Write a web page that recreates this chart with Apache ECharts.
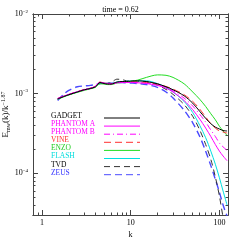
<!DOCTYPE html>
<html><head><meta charset="utf-8">
<script src="https://cdn.jsdelivr.net/npm/echarts@6/dist/echarts.min.js"></script>
<style>html,body{margin:0;padding:0;background:#fff}#c{width:241px;height:241px}</style>
</head><body><div id="c"></div>
<script>
const kValues = [1.5, 1.75, 2, 2.5, 3, 3.5, 4, 4.5, 5, 5.5, 6, 7, 8, 9, 10, 12, 15, 20, 25, 30, 40, 50, 60, 70, 80, 90, 100, 110, 122];
const gadget = [8.6e-4, 9.2e-4, 9.7e-4, 1.05e-3, 1.12e-3, 1.16e-3, 1.22e-3, 1.38e-3, 1.34e-3, 1.32e-3, 1.32e-3, 1.40e-3, 1.42e-3, 1.42e-3, 1.44e-3,
  1.45e-3, 1.42e-3, 1.33e-3, 1.22e-3, 1.12e-3, 9.4e-4, 7.6e-4, 6.0e-4, 4.9e-4, 4.2e-4, 3.8e-4, 3.6e-4, 3.45e-4, 3.4e-4];
const phantomA = [8.7e-4, 9.3e-4, 9.8e-4, 1.06e-3, 1.12e-3, 1.17e-3, 1.24e-3, 1.39e-3, 1.36e-3, 1.34e-3, 1.33e-3, 1.37e-3, 1.38e-3, 1.38e-3, 1.38e-3,
  1.37e-3, 1.34e-3, 1.27e-3, 1.17e-3, 1.05e-3, 8.2e-4, 6.3e-4, 4.8e-4, 3.7e-4, 2.9e-4, 2.3e-4, 1.9e-4, 1.65e-4, 1.44e-4];
const phantomB = [8.7e-4, 9.3e-4, 9.8e-4, 1.06e-3, 1.12e-3, 1.17e-3, 1.24e-3, 1.39e-3, 1.36e-3, 1.34e-3, 1.33e-3, 1.37e-3, 1.39e-3, 1.39e-3, 1.39e-3,
  1.37e-3, 1.35e-3, 1.29e-3, 1.2e-3, 1.09e-3, 8.8e-4, 7.0e-4, 5.5e-4, 4.4e-4, 3.5e-4, 2.9e-4, 2.4e-4, 2.15e-4, 1.94e-4];
const vine = [8.7e-4, 9.3e-4, 9.8e-4, 1.06e-3, 1.13e-3, 1.17e-3, 1.24e-3, 1.40e-3, 1.36e-3, 1.34e-3, 1.33e-3, 1.38e-3, 1.40e-3, 1.40e-3, 1.41e-3,
  1.4e-3, 1.38e-3, 1.32e-3, 1.23e-3, 1.14e-3, 9.7e-4, 8.0e-4, 6.4e-4, 5.1e-4, 4.2e-4, 3.7e-4, 3.4e-4, 3.3e-4, 3.2e-4];
const enzo = [8.5e-4, 9.1e-4, 9.6e-4, 1.04e-3, 1.1e-3, 1.15e-3, 1.2e-3, 1.33e-3, 1.32e-3, 1.3e-3, 1.3e-3, 1.36e-3, 1.38e-3, 1.4e-3, 1.43e-3,
  1.48e-3, 1.6e-3, 1.72e-3, 1.7e-3, 1.6e-3, 1.33e-3, 1.05e-3, 8.5e-4, 6.9e-4, 5.6e-4, 4.7e-4, 3.9e-4, 3.4e-4, 3.0e-4];
const flash = [8.6e-4, 9.2e-4, 9.7e-4, 1.05e-3, 1.12e-3, 1.16e-3, 1.23e-3, 1.37e-3, 1.35e-3, 1.34e-3, 1.34e-3, 1.40e-3, 1.42e-3, 1.43e-3, 1.44e-3,
  1.45e-3, 1.45e-3, 1.34e-3, 1.2e-3, 1.05e-3, 8.0e-4, 5.8e-4, 4.0e-4, 2.8e-4, 1.9e-4, 1.3e-4, 8.8e-5, 6.0e-5, 4.0e-5];
const tvd = [8.6e-4, 9.2e-4, 9.7e-4, 1.05e-3, 1.12e-3, 1.17e-3, 1.23e-3, 1.37e-3, 1.35e-3, 1.35e-3, 1.38e-3, 1.52e-3, 1.5e-3, 1.45e-3, 1.44e-3,
  1.43e-3, 1.42e-3, 1.28e-3, 1.13e-3, 9.8e-4, 7.3e-4, 5.2e-4, 3.5e-4, 2.3e-4, 1.5e-4, 9.0e-5, 5.2e-5, 2.8e-5, 1.6e-5];
const zeus = [8.2e-4, 9.8e-4, 1.1e-3, 1.22e-3, 1.25e-3, 1.27e-3, 1.3e-3, 1.34e-3, 1.36e-3, 1.36e-3, 1.35e-3, 1.37e-3, 1.38e-3, 1.37e-3, 1.36e-3,
  1.34e-3, 1.3e-3, 1.2e-3, 1.05e-3, 8.8e-4, 6.2e-4, 4.3e-4, 2.9e-4, 1.9e-4, 1.25e-4, 8.4e-5, 5.8e-5, 4.0e-5, 2.9e-5];

const seriesNames = ['GADGET', 'PHANTOM A', 'PHANTOM B', 'VINE', 'ENZO', 'FLASH', 'TVD', 'ZEUS'];
const seriesValues = [gadget, phantomA, phantomB, vine, enzo, flash, tvd, zeus];
const xMajorTicks = [1, 10, 100];
const xMinorTicks = [0.9, 2, 3, 4, 5, 6, 7, 8, 9, 20, 30, 40, 50, 60, 70, 80, 90];
const yMajorTicks = [1e-4, 1e-3, 1e-2];
const yMinorTicks = [4e-5, 5e-5, 6e-5, 7e-5, 8e-5, 9e-5, 2e-4, 3e-4, 4e-4, 5e-4, 6e-4, 7e-4, 8e-4, 9e-4, 2e-3, 3e-3, 4e-3, 5e-3, 6e-3, 7e-3, 8e-3, 9e-3];
const yLabelExp = {'0.0001': '−4', '0.001': '−3', '0.01': '−2'};
const titleText = 'time = 0.62';

const styles = [
  {color: '#000000', type: 'solid', width: 1},
  {color: '#ff00ff', type: 'solid', width: 1},
  {color: '#ff00ff', type: [6, 3, 1, 3], width: 1},
  {color: '#ff3030', type: [7, 4], width: 1},
  {color: '#22dd22', type: 'solid', width: 1},
  {color: '#00e0e0', type: 'solid', width: 1},
  {color: '#333333', type: [6, 4], width: 1},
  {color: '#4a4aff', type: [7, 4], width: 1.4}
];
const textColors = ['#000', '#ff00ff', '#ff00ff', '#ff3030', '#22cc22', '#00dddd', '#000', '#3333ff'];

const FONT = 'Liberation Serif';
const XMIN = 0.79, XMAX = 125, YMIN = 3e-5, YMAX = 1e-2;
const axisLineStyle = {color: '#444', width: 1};

function xAx(grid, pos, major, withLabels) {
  return {
    type: 'log', gridIndex: grid, position: pos, min: XMIN, max: XMAX, logBase: 10,
    axisLine: {show: true, onZero: false, lineStyle: axisLineStyle},
    axisTick: {show: true, inside: true, length: major ? 5 : 2.5, customValues: major ? xMajorTicks : xMinorTicks, lineStyle: axisLineStyle},
    axisLabel: withLabels ? {show: true, customValues: xMajorTicks, fontFamily: FONT, fontSize: 8, color: '#000', margin: 4, formatter: v => String(Math.round(v))} : {show: false},
    splitLine: {show: false}, minorTick: {show: false},
    name: withLabels ? 'k' : '', nameLocation: 'middle', nameGap: 16, nameMoveOverlap: false,
    nameTextStyle: {fontFamily: FONT, fontSize: 8, color: '#000'}
  };
}
function yAx(grid, pos, major, withLabels) {
  return {
    type: 'log', gridIndex: grid, position: pos, min: YMIN, max: YMAX, logBase: 10,
    axisLine: {show: true, onZero: false, lineStyle: axisLineStyle},
    axisTick: {show: true, inside: true, length: major ? 5 : 2.5, customValues: major ? yMajorTicks : yMinorTicks, lineStyle: axisLineStyle},
    axisLabel: withLabels ? {
      show: true, customValues: yMajorTicks, margin: 5,
      formatter: v => '{b|10}{s|' + (yLabelExp[String(v)] || '') + '}',
      rich: {b: {fontFamily: FONT, fontSize: 8, color: '#000'}, s: {fontFamily: FONT, fontSize: 5, color: '#000', verticalAlign: 'top', padding: [0, 0, 5, 0]}}
    } : {show: false},
    splitLine: {show: false}, minorTick: {show: false},
    name: withLabels ? '{b|E}{sub|mw}{b|(k)/k}{sup|−1.87}' : '', nameLocation: 'middle', nameGap: 21, nameRotate: 90, nameMoveOverlap: false,
    nameTextStyle: {rich: {
      b: {fontFamily: FONT, fontSize: 9, color: '#000'},
      sub: {fontFamily: FONT, fontSize: 6, color: '#000', padding: [4, 0, 0, 0]},
      sup: {fontFamily: FONT, fontSize: 6, color: '#000', padding: [0, 0, 6, 0]}
    }}
  };
}

const gridRect = {left: 33, right: 13, top: 14, bottom: 26, containLabel: false, outerBoundsMode: 'none'};
const chart = echarts.init(document.getElementById('c'), null, {renderer: 'canvas'});
chart.setOption({
  animation: false,
  backgroundColor: '#fff',
  title: {text: titleText, left: 'center', top: 1, textStyle: {fontFamily: FONT, fontSize: 8, fontWeight: 'normal', color: '#000'}},
  grid: [Object.assign({}, gridRect), Object.assign({}, gridRect)],
  xAxis: [xAx(0, 'bottom', true, true), xAx(0, 'top', true, false), xAx(1, 'bottom', false, false), xAx(1, 'top', false, false)],
  yAxis: [yAx(0, 'left', true, true), yAx(0, 'right', true, false), yAx(1, 'left', false, false), yAx(1, 'right', false, false)],
  legend: {
    orient: 'vertical', left: 51, top: 112, align: 'right', padding: 0,
    itemWidth: 36, itemHeight: 7, itemGap: -3.9,
    itemStyle: {opacity: 0},
    lineStyle: {width: 1},
    data: seriesNames.map((n, i) => ({name: n, textStyle: {color: textColors[i]}})),
    formatter: name => '{t|' + name + '}',
    textStyle: {fontFamily: FONT, fontSize: 7.5, rich: {t: {width: 48, align: 'left', fontFamily: FONT, fontSize: 7.5, lineHeight: 4, padding: [0, 0, 4, 0]}}}
  },
  series: seriesNames.map((n, i) => ({
    name: n, type: 'line', xAxisIndex: 0, yAxisIndex: 0,
    data: kValues.map((k, j) => [k, seriesValues[i][j]]),
    showSymbol: false, symbol: 'none', smooth: 0.3,
    lineStyle: styles[i], itemStyle: {color: styles[i].color},
    z: 10 - i
  }))
});
</script></body></html>
